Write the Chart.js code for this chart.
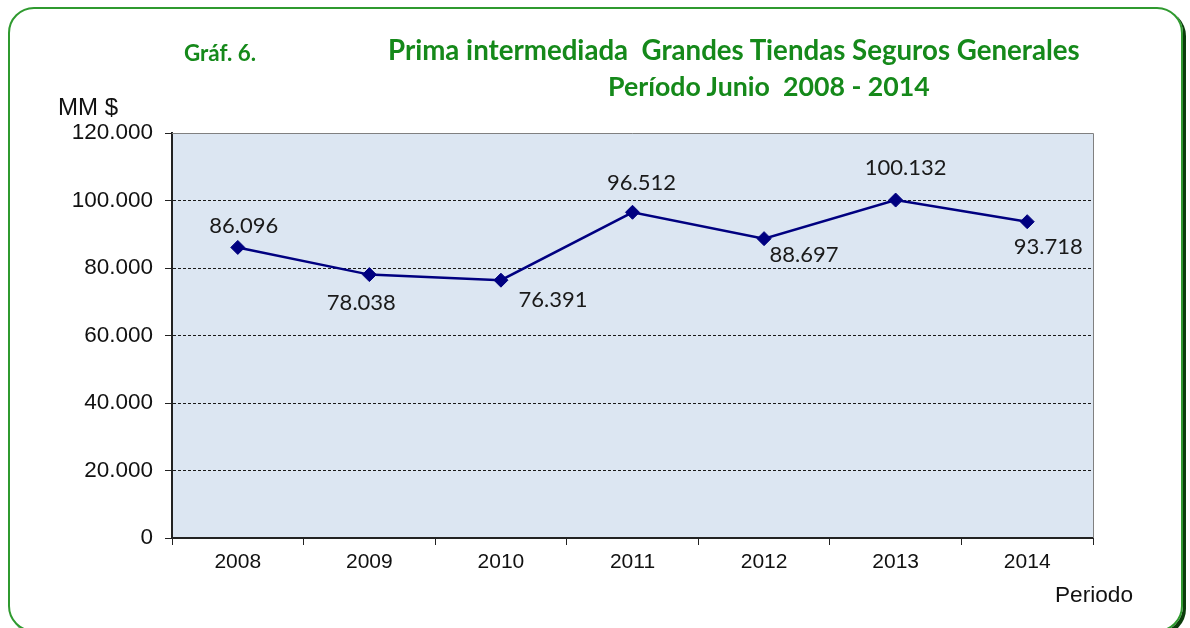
<!DOCTYPE html>
<html>
<head>
<meta charset="utf-8">
<script src="https://cdn.jsdelivr.net/npm/chart.js@4.4.1/dist/chart.umd.min.js"></script>
<style>
  html, body { margin:0; padding:0; background:#fff; }
  body { width:1190px; height:628px; position:relative; overflow:hidden; }
  #frame { position:absolute; left:8px; top:7px; width:1175px; height:625px; border:2px solid #2f9a2f; border-radius:26px; box-shadow:3px 3px 0 #0c3d0c; box-sizing:border-box; }
  #wrap { position:absolute; left:0; top:0; width:1190px; height:628px; }
  .t { position:absolute; color:#15891a; font-family:Lato, "Open Sans", sans-serif; font-weight:bold; white-space:pre; line-height:1; }
  .ax { position:absolute; color:#111; font-family:"Liberation Sans", Arial, sans-serif; font-size:21px; line-height:1; white-space:pre; }
</style>
</head>
<body>
<div id="frame"></div>
<div id="wrap"><canvas id="c" width="1190" height="628"></canvas></div>
<div class="t" id="g6" style="left:184px; top:42px; font-size:19px;">Gráf. 6.</div>
<div class="t" id="t1" style="left:388px; top:36px; font-size:25px;">Prima intermediada  Grandes Tiendas Seguros Generales</div>
<div class="t" id="t2" style="left:608px; top:73px; font-size:25px;">Período Junio  2008 - 2014</div>
<div class="ax" id="mm" style="left:58px; top:95px;">MM $</div>
<div class="ax" id="per" style="left:1055px; top:584px;">Periodo</div>
<script>
const categories = ["2008", "2009", "2010", "2011", "2012", "2013", "2014"];
const primaValues = [86096, 78038, 76391, 96512, 88697, 100132, 93718];
const yTicks = [0, 20000, 40000, 60000, 80000, 100000, 120000];

// fit text widths to reference
function fitWidth(id, w) {
  const el = document.getElementById(id);
  const cur = el.getBoundingClientRect().width;
  const fs = parseFloat(el.style.fontSize || getComputedStyle(el).fontSize);
  el.style.fontSize = (fs * w / cur).toFixed(2) + "px";
}
fitWidth("t1", 692);
fitWidth("t2", 322);
fitWidth("g6", 72);
fitWidth("mm", 60);
fitWidth("per", 78);

function fmt(v) {
  return v.toLocaleString("de-DE");
}

const labelOffsets = [[6,-22],[-8,28],[52,20],[9,-29],[40,16],[10,-32],[21,25]];

const plotBg = {
  id: "plotBg",
  beforeDraw(chart) {
    const {ctx, chartArea:a} = chart;
    ctx.save();
    ctx.fillStyle = "#dce6f2";
    ctx.fillRect(a.left, a.top, a.right - a.left, a.bottom - a.top);
    ctx.restore();
  },
  afterDatasetsDraw(chart) {
    const {ctx, chartArea:a} = chart;
    ctx.save();
    ctx.strokeStyle = "#808080";
    ctx.lineWidth = 1;
    ctx.beginPath();
    ctx.moveTo(a.left, a.top + 0.5); ctx.lineTo(a.right + 0.5, a.top + 0.5); ctx.lineTo(a.right + 0.5, a.bottom);
    ctx.stroke();
    // data labels
    const meta = chart.getDatasetMeta(0);
    ctx.fillStyle = "#1a1a1a";
    ctx.font = "22px Lato, 'Open Sans', sans-serif";
    ctx.textAlign = "center";
    ctx.textBaseline = "middle";
    meta.data.forEach((pt, i) => {
      const o = labelOffsets[i];
      ctx.fillText(fmt(primaValues[i]), pt.x + o[0], pt.y + o[1]);
    });
    ctx.restore();
  }
};

new Chart(document.getElementById("c"), {
  type: "line",
  data: {
    labels: categories,
    datasets: [{
      data: primaValues,
      borderColor: "#000080",
      backgroundColor: "#000080",
      borderWidth: 2.5,
      pointStyle: "rectRot",
      pointRadius: 7,
      pointBorderWidth: 1,
      pointBorderColor: "#000080",
      tension: 0,
      clip: false
    }]
  },
  options: {
    responsive: false,
    animation: false,
    events: [],
    layout: { padding: { left: 0, top: 133, right: 97, bottom: 0 } },
    plugins: { legend: { display: false }, tooltip: { enabled: false }, title: { display: false } },
    scales: {
      x: {
        offset: true,
        afterFit(s) { s.height = 90; },
        grid: { offset: true, drawOnChartArea: false, drawTicks: true, tickLength: 7, color: "#222", lineWidth: 1 },
        border: { color: "#222", width: 2 },
        ticks: { color: "#111", font: { family: "'Liberation Sans', Arial, sans-serif", size: 21 }, padding: 5, maxRotation: 0 }
      },
      y: {
        min: 0, max: 120000,
        afterFit(s) { s.width = 172; },
        afterBuildTicks(s) { s.ticks = yTicks.map(v => ({ value: v })); },
        grid: {
          color: (c) => (c.tick && (c.tick.value === 0 || c.tick.value === 120000)) ? "rgba(0,0,0,0)" : "#1a1a1a",
          tickColor: "#222",
          tickLength: 7,
          lineWidth: 1,
          drawTicks: true,
          tickBorderDash: []
        },
        border: { color: "#222", width: 2, dash: [3, 2] },
        ticks: { color: "#111", font: { family: "'Liberation Sans', Arial, sans-serif", size: 22.5 }, padding: 12, callback: (v) => fmt(v) }
      }
    }
  },
  plugins: [plotBg]
});
</script>
</body>
</html>
